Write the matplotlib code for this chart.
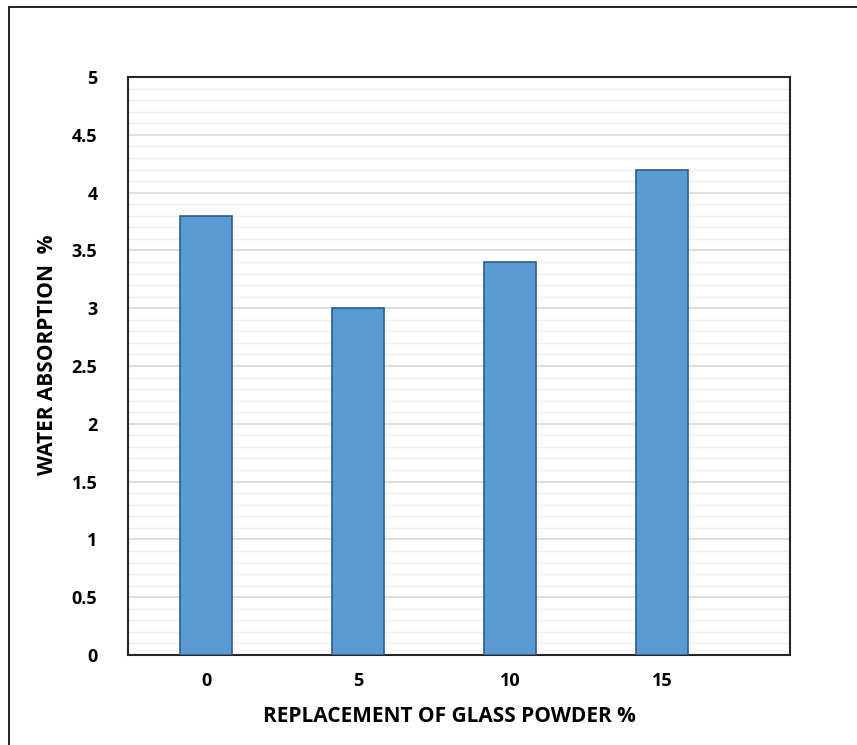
import matplotlib.pyplot as plt
from matplotlib.patches import Rectangle
from matplotlib.ticker import MultipleLocator

categories = ['0', '5', '10', '15']
absorption = [3.8, 3.0, 3.4, 4.2]
y_ticks = [0, 0.5, 1, 1.5, 2, 2.5, 3, 3.5, 4, 4.5, 5]
y_tick_labels = ['0', '0.5', '1', '1.5', '2', '2.5', '3', '3.5', '4', '4.5', '5']

plt.rcParams['font.family'] = ['Open Sans', 'DejaVu Sans']
plt.rcParams['font.weight'] = 'bold'

fig = plt.figure(figsize=(8.57, 7.45), dpi=100)
ax = fig.add_axes([0.1494, 0.1208, 0.7724, 0.7758])

x = range(len(categories))
ax.bar(x, absorption, width=0.34, color='#5B9BD5', edgecolor='#2E5C8A',
       linewidth=1.2, zorder=3)

ax.set_xlim(-0.513, 3.84)
ax.set_ylim(0, 5)
ax.set_xticks(list(x))
ax.set_xticklabels(categories, fontweight='bold')
ax.set_yticks(y_ticks)
ax.set_yticklabels(y_tick_labels, fontweight='bold')
ax.yaxis.set_minor_locator(MultipleLocator(0.1))

ax.grid(axis='y', which='major', color='#D9D9D9', linewidth=1.2, zorder=0)
ax.grid(axis='y', which='minor', color='#EFEFEF', linewidth=1.0, zorder=0)
ax.tick_params(axis='both', which='both', length=0, labelsize=13)
ax.tick_params(axis='y', pad=22)
ax.tick_params(axis='x', pad=12)

for s in ax.spines.values():
    s.set_color('#262626')
    s.set_linewidth(1.5)

ax.set_xlabel('REPLACEMENT OF GLASS POWDER %', fontsize=15, fontweight='bold')
ax.xaxis.set_label_coords(0.486, -0.088)
ax.set_ylabel('WATER ABSORPTION  %', fontsize=15, fontweight='bold')
ax.yaxis.set_label_coords(-0.106, 0.52)

# outer frame around the chart area
fig.patches.append(Rectangle((9 / 857, -0.05), 1.0, 1 - 7 / 745 + 0.05,
                             transform=fig.transFigure, fill=False,
                             edgecolor='black', linewidth=1.2))

fig.savefig('out.png', dpi=100)
